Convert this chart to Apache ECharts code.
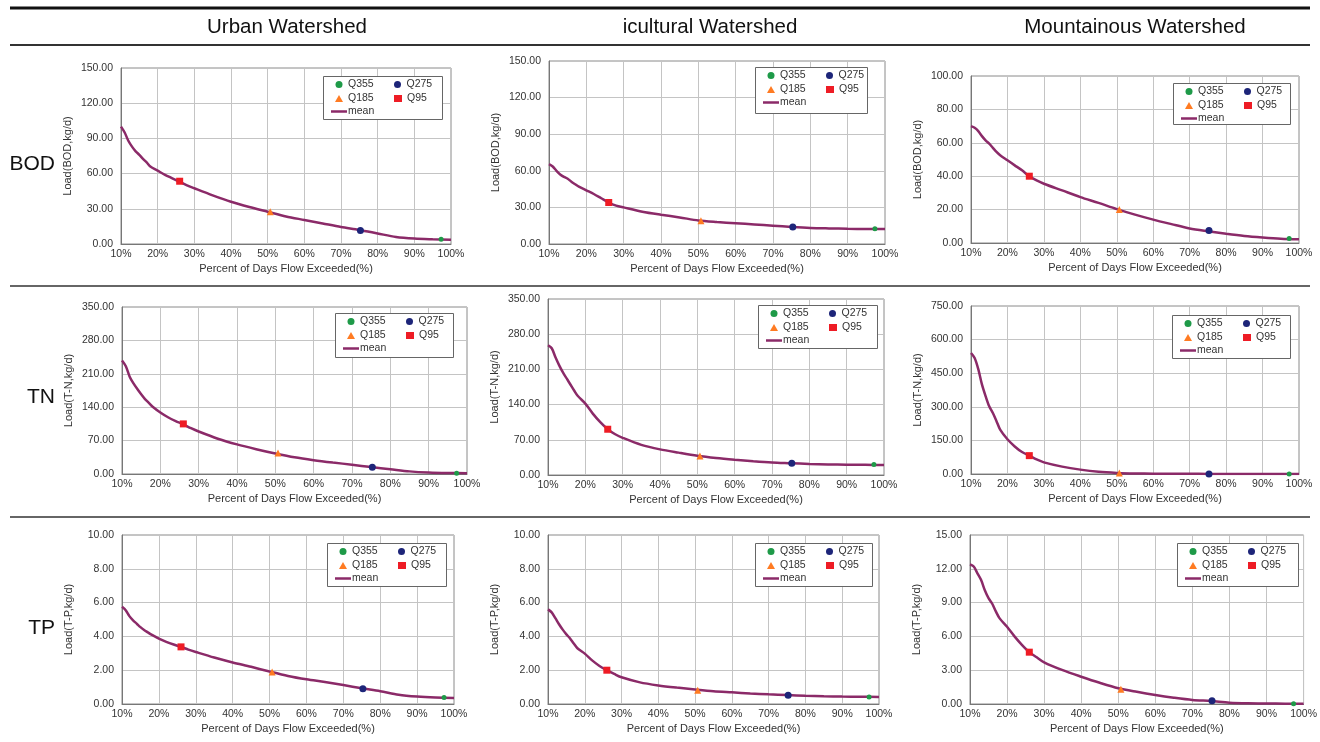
<!DOCTYPE html>
<html>
<head>
<meta charset="utf-8">
<script src="https://cdn.jsdelivr.net/npm/echarts@6/dist/echarts.min.js"></script>
<style>
  html, body { margin: 0; padding: 0; background: #fff; }
  #main { width: 1320px; height: 742px; }
</style>
</head>
<body>
<div id="main"></div>
<script>
// percent of days flow exceeded (x of the mean curve)
var flowPct = [10, 11, 12, 13, 14, 15, 16, 17, 18, 20, 22, 24, 26, 28, 30, 35, 40, 45, 50, 55, 60, 65, 70, 75, 80, 85, 90, 95, 100];

// mean load curves
var urbanBOD = [100, 95, 88, 83, 79, 76, 72.5, 69.5, 66, 62.5, 59, 56, 53, 50, 47.5, 41.5, 36, 31.5, 27.5, 23.5, 20.5, 17.5, 14.5, 12, 9, 6, 4.6, 4, 3.6];
var agriBOD  = [65.5, 63.5, 60, 57, 55, 53.5, 51, 49, 47, 44, 41, 37.5, 34, 31.5, 30, 26.5, 24, 21.8, 19.3, 18, 17, 16, 15, 14, 13.2, 12.8, 12.5, 12.3, 12.2];
var mountBOD = [70, 69, 67, 64, 61.5, 59.5, 57, 54.5, 52.5, 49.5, 46.5, 43.5, 40, 37.5, 35.5, 31.5, 27.5, 24, 20.3, 17, 14, 11.3, 8.7, 7, 5.5, 4.2, 3.3, 2.6, 2.3];
var urbanTN  = [238, 226, 204, 190, 178, 167, 157, 149, 141, 129, 119, 111, 104, 96, 89, 74, 62, 52, 43, 35, 29, 24, 19.5, 14.5, 10, 5.5, 3, 2, 1.8];
var agriTN   = [258, 252, 234, 218, 204, 192, 180, 168, 157, 142, 122, 105, 91, 81, 74, 60, 51, 44.5, 38.5, 34, 30.5, 27.5, 25, 23.5, 22, 21, 20.5, 20.2, 20];
var mountTN  = [540, 518, 468, 400, 348, 302, 272, 236, 198, 155, 123, 98, 82, 65, 52, 33, 19.5, 10, 5, 2.5, 1.5, 1, 0.7, 0.5, 0.4, 0.3, 0.2, 0.2, 0.2];
var urbanTP  = [5.75, 5.55, 5.2, 4.95, 4.75, 4.55, 4.38, 4.24, 4.1, 3.87, 3.68, 3.52, 3.38, 3.22, 3.08, 2.75, 2.46, 2.2, 1.92, 1.66, 1.46, 1.3, 1.12, 0.93, 0.76, 0.55, 0.44, 0.38, 0.35];
var agriTP   = [5.6, 5.42, 5.08, 4.72, 4.4, 4.12, 3.88, 3.58, 3.3, 2.98, 2.58, 2.25, 2.0, 1.78, 1.58, 1.28, 1.1, 0.97, 0.86, 0.76, 0.69, 0.62, 0.57, 0.53, 0.49, 0.46, 0.44, 0.43, 0.42];
var mountTP  = [12.4, 12.2, 11.6, 11.0, 10.1, 9.4, 8.9, 8.2, 7.6, 6.85, 6.0, 5.25, 4.6, 4.15, 3.7, 3.0, 2.42, 1.88, 1.4, 1.08, 0.8, 0.56, 0.36, 0.26, 0.12, 0.06, 0.04, 0.03, 0.02];

// duration points: Q355, Q275, Q185, Q95
var qNames = ["Q355", "Q275", "Q185", "Q95"];
var qPct = [97.3, 75.3, 50.7, 26.0];
var urbanBODQ = [4, 11.5, 27.5, 53.5];
var agriBODQ  = [12.5, 14, 19, 34];
var mountBODQ = [2.7, 7.5, 20, 40];
var urbanTNQ  = [1.8, 14, 44, 105];
var agriTNQ   = [21, 23.5, 38, 91];
var mountTNQ  = [0.2, 0.5, 5, 82];
var urbanTPQ  = [0.38, 0.9, 1.9, 3.38];
var agriTPQ   = [0.42, 0.52, 0.82, 2.0];
var mountTPQ  = [0.02, 0.28, 1.3, 4.6];

var colHeads = ["Urban Watershed", "icultural Watershed", "Mountainous Watershed"];
var rowHeads = ["BOD", "TN", "TP"];
var yNames = ["Load(BOD,kg/d)", "Load(T-N,kg/d)", "Load(T-P,kg/d)"];
var yMax  = [150, 150, 100, 350, 350, 750, 10, 10, 15];
var yStep = [30, 30, 20, 70, 70, 150, 2, 2, 3];

var curves = [urbanBOD, agriBOD, mountBOD, urbanTN, agriTN, mountTN, urbanTP, agriTP, mountTP];
var qVals = [urbanBODQ, agriBODQ, mountBODQ, urbanTNQ, agriTNQ, mountTNQ, urbanTPQ, agriTPQ, mountTPQ];

// plot rect of each panel: left, top, width, height
var plotBox = [
  [121, 68, 330, 176], [549, 61, 336, 183], [971, 76, 328, 167],
  [122, 307, 345, 167], [548, 299, 336, 176], [971, 306, 328, 168],
  [122, 535, 332, 169], [548, 535, 331, 169], [970, 535, 334, 169]
];
// legend frame of each panel: left, top, width, height
var legBox = [
  [323, 76, 119, 43], [755, 67, 112, 46], [1173, 83, 117, 41],
  [335, 313, 118, 44], [758, 305, 119, 43], [1172, 315, 118, 43],
  [327, 543, 119, 43], [755, 543, 117, 43], [1177, 543, 121, 43]
];

var font = "Arial, 'Liberation Sans', sans-serif";
var qStyle = {
  Q355: { symbol: "circle", size: 5, color: "#1e9a48" },
  Q275: { symbol: "circle", size: 7, color: "#1d2579" },
  Q185: { symbol: "triangle", size: 7, color: "#ff7b22" },
  Q95:  { symbol: "rect", size: 7, color: "#ee1c25" }
};
var meanColor = "#8b2a68";

var myChart = echarts.init(document.getElementById("main"));
var grids = [], xAxes = [], yAxes = [], legends = [], series = [];
var graphics = [];

for (var i = 0; i < 9; i++) {
  var b = plotBox[i], lb = legBox[i];
  grids.push({ left: b[0], top: b[1], width: b[2], height: b[3], show: true,
    borderColor: "#8a8a8a", borderWidth: 1, backgroundColor: "#fff" });
  xAxes.push({
    type: "value", gridIndex: i, min: 10, max: 100, interval: 10,
    name: "Percent of Days Flow Exceeded(%)", nameLocation: "middle", nameGap: 19,
    nameTextStyle: { fontSize: 11, color: "#333", fontFamily: font },
    axisLine: { lineStyle: { color: "#777" } },
    axisTick: { show: false },
    axisLabel: { fontSize: 10.5, color: "#333", fontFamily: font, margin: 5,
      formatter: function (v) { return v + "%"; } },
    splitLine: { show: true, lineStyle: { color: "#c4c4c4" } }
  });
  yAxes.push({
    type: "value", gridIndex: i, min: 0, max: yMax[i], interval: yStep[i],
    name: yNames[Math.floor(i / 3)], nameLocation: "middle", nameGap: 48,
    nameTextStyle: { fontSize: 11, color: "#333", fontFamily: font },
    axisLine: { show: true, lineStyle: { color: "#777" } },
    axisTick: { show: false },
    axisLabel: { fontSize: 10.5, color: "#333", fontFamily: font, margin: 8,
      formatter: function (v) { return v.toFixed(2); } },
    splitLine: { show: true, lineStyle: { color: "#c4c4c4" } }
  });

  // legend frame
  graphics.push({ type: "rect", z: 90, shape: { x: lb[0] + 0.5, y: lb[1] + 0.5, width: lb[2], height: lb[3] },
    style: { fill: "#fff", stroke: "#666", lineWidth: 1 } });
  // markers legend (2 columns)
  legends.push({
    left: lb[0] + 12, top: lb[1] + 2, width: 120, orient: "horizontal",
    padding: 0, itemGap: 1, itemWidth: 8, itemHeight: 7, z: 100,
    selectedMode: false,
    textStyle: { fontSize: 10.5, color: "#333", fontFamily: font, width: 45, lineHeight: 13 },
    data: [
      { name: "Q355", icon: "circle" }, { name: "Q275", icon: "circle" },
      { name: "Q185", icon: "triangle" }, { name: "Q95", icon: "rect" }
    ]
  });
  // mean line legend
  legends.push({
    left: lb[0] + 8, top: lb[1] + 29, padding: 0, itemWidth: 16, itemHeight: 2.5, z: 100,
    selectedMode: false,
    textStyle: { fontSize: 10.5, color: "#333", fontFamily: font, lineHeight: 13, padding: [0, 0, 0, -4] },
    data: [{ name: "mean", icon: "rect" }]
  });

  series.push({
    type: "line", name: "mean", xAxisIndex: i, yAxisIndex: i,
    symbol: "none", smooth: 0.3,
    lineStyle: { color: meanColor, width: 2.5 }, itemStyle: { color: meanColor },
    data: flowPct.map(function (x, k) { return [x, curves[i][k]]; }),
    z: 3
  });
  for (var q = 0; q < 4; q++) {
    var st = qStyle[qNames[q]];
    series.push({
      type: "scatter", name: qNames[q], xAxisIndex: i, yAxisIndex: i,
      symbol: st.symbol, symbolSize: st.size, itemStyle: { color: st.color, opacity: 1 },
      data: [[qPct[q], qVals[i][q]]], z: 5
    });
  }
}

graphics.push(
  { type: "line", shape: { x1: 10, y1: 8, x2: 1310, y2: 8 }, style: { stroke: "#111", lineWidth: 3 } },
  { type: "line", shape: { x1: 10, y1: 45, x2: 1310, y2: 45 }, style: { stroke: "#333", lineWidth: 2 } },
  { type: "line", shape: { x1: 10, y1: 286, x2: 1310, y2: 286 }, style: { stroke: "#666", lineWidth: 2 } },
  { type: "line", shape: { x1: 10, y1: 517, x2: 1310, y2: 517 }, style: { stroke: "#666", lineWidth: 2 } }
);
var headX = [287, 710, 1135];
headX.forEach(function (cx, k) {
  graphics.push({ type: "text", x: cx, y: 27, style: { text: colHeads[k], fontSize: 20.5, fill: "#111",
    fontFamily: font, textAlign: "center", textVerticalAlign: "middle" } });
});
var rowY = [164, 397, 628];
rowHeads.forEach(function (t, k) {
  graphics.push({ type: "text", x: 55, y: rowY[k], style: { text: t, fontSize: 21, fill: "#111",
    fontFamily: font, textAlign: "right", textVerticalAlign: "middle" } });
});

myChart.setOption({
  animation: false,
  backgroundColor: "#fff",
  grid: grids, xAxis: xAxes, yAxis: yAxes, legend: legends,
  series: series,
  graphic: graphics
});
</script>
</body>
</html>
